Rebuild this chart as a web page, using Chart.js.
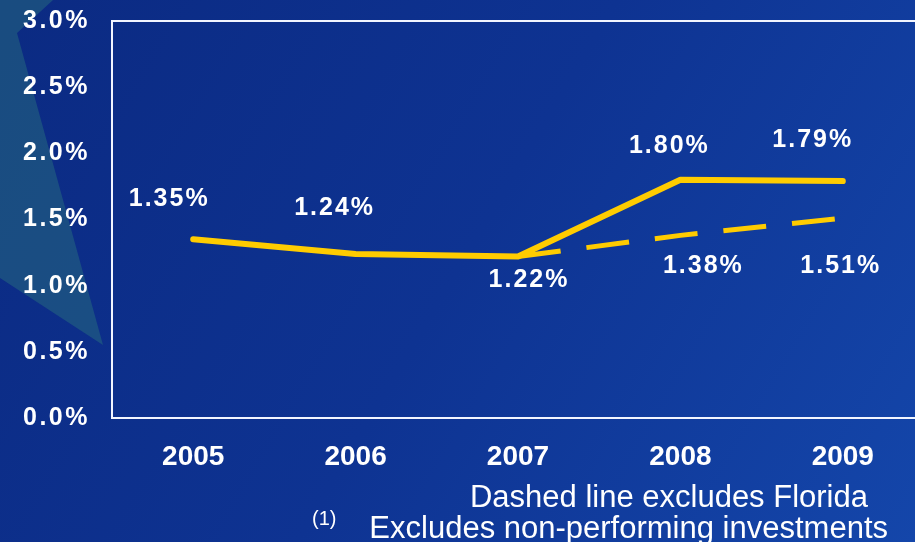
<!DOCTYPE html>
<html>
<head>
<meta charset="utf-8">
<script src="https://cdn.jsdelivr.net/npm/chart.js@4/dist/chart.umd.min.js"></script>
<style>
  html, body { margin:0; padding:0; background:#0E3290; }
  #wrap { position:relative; width:915px; height:542px; overflow:hidden; }
  #c { position:absolute; left:0; top:0; }
  .fn { position:absolute; color:#fff; font-family:'Liberation Sans', Arial, sans-serif; line-height:1; white-space:nowrap; }
</style>
</head>
<body>
<div id="wrap">
  <canvas id="c" width="924" height="542"></canvas>
  <div class="fn" style="right:47px; top:481px; font-size:31px;">Dashed line excludes Florida</div>
  <div class="fn" style="left:312px; top:508px; font-size:20px;">(1)</div>
  <div class="fn" style="right:27px; top:512px; font-size:31px;">Excludes non-performing investments</div>
</div>
<script>
// ---- data ----
const categories = ['2005', '2006', '2007', '2008', '2009'];
const totalValues = [1.35, 1.24, 1.22, 1.80, 1.79];
const exFloridaValues = [null, null, 1.22, 1.38, 1.51];
const yTicks = [0, 0.5, 1.0, 1.5, 2.0, 2.5, 3.0];

// ---- label placement (style, not data) ----
const totalLabelOffsets = [[-25, -40], [-22, -46], [10, 24], [-12, -34], [-31, -41]];
const exFloridaLabelShow = [false, false, false, true, true];
const exFloridaLabelOffsets = [[0, 0], [0, 0], [0, 0], [22, 31], [-3, 48]];

const FONT = "'Liberation Sans', Arial, sans-serif";
const GOLD = '#FFCC00';

const bgPlugin = {
  id: 'bg',
  beforeDraw(chart) {
    const ctx = chart.ctx;
    const w = chart.width, h = chart.height;
    ctx.save();
    const g = ctx.createLinearGradient(0, 0, 915, 542);
    g.addColorStop(0, '#0B2A82');
    g.addColorStop(0.5, '#0E3392');
    g.addColorStop(1, '#1446AA');
    ctx.fillStyle = g;
    ctx.fillRect(0, 0, w, h);
    ctx.fillStyle = 'rgba(40,110,125,0.5)';
    ctx.beginPath();
    ctx.moveTo(0, 0); ctx.lineTo(53, 0); ctx.lineTo(17, 33); ctx.lineTo(103, 345); ctx.lineTo(0, 278);
    ctx.closePath();
    ctx.fill();
    ctx.restore();
    const y = chart.scales.y;
    if (y && !y._tracked) {
      const orig = y.drawLabels.bind(y);
      y.drawLabels = function (area) {
        const c = this.ctx; c.save(); c.letterSpacing = '2.5px'; orig(area); c.restore();
      };
      y._tracked = true;
    }
  },
  afterDraw(chart) {
    const ctx = chart.ctx, a = chart.chartArea;
    ctx.save();
    ctx.strokeStyle = '#F2F5FF';
    ctx.lineWidth = 2;
    ctx.strokeRect(a.left, a.top, a.right - a.left + 10, a.bottom - a.top);
    ctx.restore();
  }
};

const labelPlugin = {
  id: 'valueLabels',
  afterDatasetsDraw(chart) {
    const ctx = chart.ctx;
    ctx.save();
    ctx.fillStyle = '#FFFFFF';
    ctx.font = 'bold 25px ' + FONT;
    ctx.letterSpacing = '2px';
    ctx.textAlign = 'center';
    ctx.textBaseline = 'middle';
    const draw = (dsIndex, values, offsets, show) => {
      const meta = chart.getDatasetMeta(dsIndex);
      values.forEach((v, i) => {
        if (v === null || (show && !show[i])) return;
        const p = meta.data[i];
        ctx.fillText(v.toFixed(2) + '%', p.x + offsets[i][0] + 1, p.y + offsets[i][1]);
      });
    };
    draw(0, totalValues, totalLabelOffsets, null);
    draw(1, exFloridaValues, exFloridaLabelOffsets, exFloridaLabelShow);
    ctx.restore();
  }
};

new Chart(document.getElementById('c'), {
  type: 'line',
  data: {
    labels: categories,
    datasets: [
      {
        label: 'Total',
        data: totalValues,
        borderColor: GOLD,
        borderWidth: 6,
        borderCapStyle: 'round',
        borderJoinStyle: 'round',
        pointRadius: 0,
        tension: 0,
        fill: false
      },
      {
        label: 'Excluding Florida',
        data: exFloridaValues,
        borderColor: GOLD,
        borderWidth: 5,
        borderDash: [43, 26],
        borderCapStyle: 'butt',
        pointRadius: 0,
        tension: 0,
        fill: false
      }
    ]
  },
  options: {
    responsive: false,
    animation: false,
    layout: { padding: { top: 21, left: 0, right: 0, bottom: 0 } },
    plugins: { legend: { display: false }, tooltip: { enabled: false } },
    scales: {
      x: {
        type: 'category',
        offset: true,
        grid: { display: false, drawTicks: false },
        border: { display: true, color: '#F2F5FF', width: 2 },
        ticks: { color: '#FFFFFF', font: { family: FONT, size: 28, weight: 'bold' }, padding: 22, maxRotation: 0 },
        afterFit(s) { s.height = 124; s.paddingLeft = 0; s.paddingRight = 0; }
      },
      y: {
        min: 0,
        max: 3,
        afterBuildTicks(s) { s.ticks = yTicks.map(v => ({ value: v })); },
        grid: { display: false, drawTicks: false },
        border: { display: true, color: '#F2F5FF', width: 2 },
        ticks: {
          color: '#FFFFFF',
          font: { family: FONT, size: 25, weight: 'bold' },
          padding: 22,
          callback: v => Number(v).toFixed(1) + '%'
        },
        afterFit(s) { s.width = 112; s.paddingTop = 0; s.paddingBottom = 0; }
      }
    }
  },
  plugins: [bgPlugin, labelPlugin]
});
</script>
</body>
</html>
